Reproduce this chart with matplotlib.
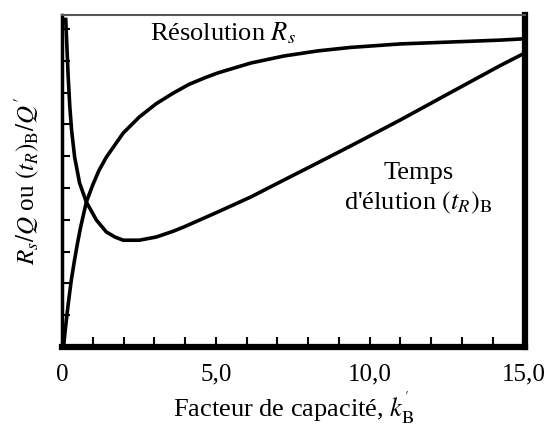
import numpy as np
import matplotlib.pyplot as plt

plt.rcParams["font.family"] = ["Liberation Serif", "DejaVu Serif"]
plt.rcParams["mathtext.fontset"] = "stix"

# values (arbitrary units, 10 tick intervals on y)
res_k = [0.05, 0.10, 0.20, 0.30, 0.40, 0.50, 0.60, 0.79, 1.00, 1.20, 1.44,
         1.99, 2.51, 3.06, 3.61, 4.13, 4.68, 5.07, 6.14, 7.21, 8.31, 9.38,
         11.0, 12.63, 14.25, 15.0]
res_val = [0.0, 0.50, 1.35, 2.10, 2.70, 3.25, 3.75, 4.56, 5.10, 5.55, 5.97,
           6.73, 7.23, 7.65, 7.98, 8.26, 8.48, 8.62, 8.93, 9.15, 9.31, 9.42,
           9.53, 9.59, 9.65, 9.69]

elu_k = [0.12, 0.16, 0.20, 0.25, 0.31, 0.41, 0.57, 0.79, 1.12, 1.44, 1.72,
         1.99, 2.51, 3.06, 3.61, 3.97, 5.07, 6.14, 7.21, 8.31, 9.38, 11.0,
         12.63, 14.25, 15.0]
elu_val = [10.30, 9.40, 8.50, 7.60, 6.82, 5.97, 5.16, 4.56, 3.99, 3.62, 3.46,
           3.36, 3.36, 3.46, 3.64, 3.78, 4.25, 4.72, 5.25, 5.79, 6.32, 7.14,
           8.00, 8.85, 9.22]

x_ticks = [0, 5, 10, 15]
x_labels = ["0", "5,0", "10,0", "15,0"]


def main() -> None:
    fig = plt.figure(figsize=(5.49, 4.28), dpi=100)
    ax = fig.add_axes([0.113, 0.189, 0.843, 0.776])

    ax.plot(res_k, res_val, color="black", lw=2.6, solid_joinstyle="round")
    ax.plot(elu_k, elu_val, color="black", lw=2.6, solid_joinstyle="round")

    ax.set_xlim(0, 15.05)
    ax.set_ylim(0, 10.44)

    ax.set_xticks(x_ticks)
    ax.set_xticklabels(x_labels, fontsize=18)
    ax.set_xticks(np.arange(0, 16, 1), minor=True)
    ax.set_yticks(np.arange(0, 11, 1))
    ax.set_yticklabels([])
    ax.tick_params(axis="x", which="major", direction="in", length=7, width=1.5, pad=12)
    ax.tick_params(axis="x", which="minor", direction="in", length=7, width=1.5)
    ax.tick_params(axis="y", direction="in", length=6, width=1.5)

    ax.spines["left"].set_linewidth(2.5)
    ax.spines["bottom"].set_linewidth(4.5)
    ax.spines["right"].set_linewidth(4.5)
    ax.spines["top"].set_linewidth(1.5)
    ax.spines["top"].set_color("#555555")

    ax.set_xlabel("Facteur de capacité, $k_{\\mathrm{B}}^{'}$", fontsize=19, labelpad=3)
    ax.set_ylabel("$R_s/Q$ ou $(t_R)_{\\mathrm{B}}/Q'$", fontsize=18, labelpad=11)

    ax.text(5.23, 9.87, "Résolution $R_s$", fontsize=19, ha="center", va="center")
    ax.text(11.6, 5.47, "Temps", fontsize=19, ha="center", va="center")
    ax.text(11.6, 4.53, "d'élution $(t_R)_{\\mathrm{B}}$", fontsize=19, ha="center", va="center")

    fig.savefig("out.png", dpi=100)
    plt.close(fig)


if __name__ == "__main__":
    main()
